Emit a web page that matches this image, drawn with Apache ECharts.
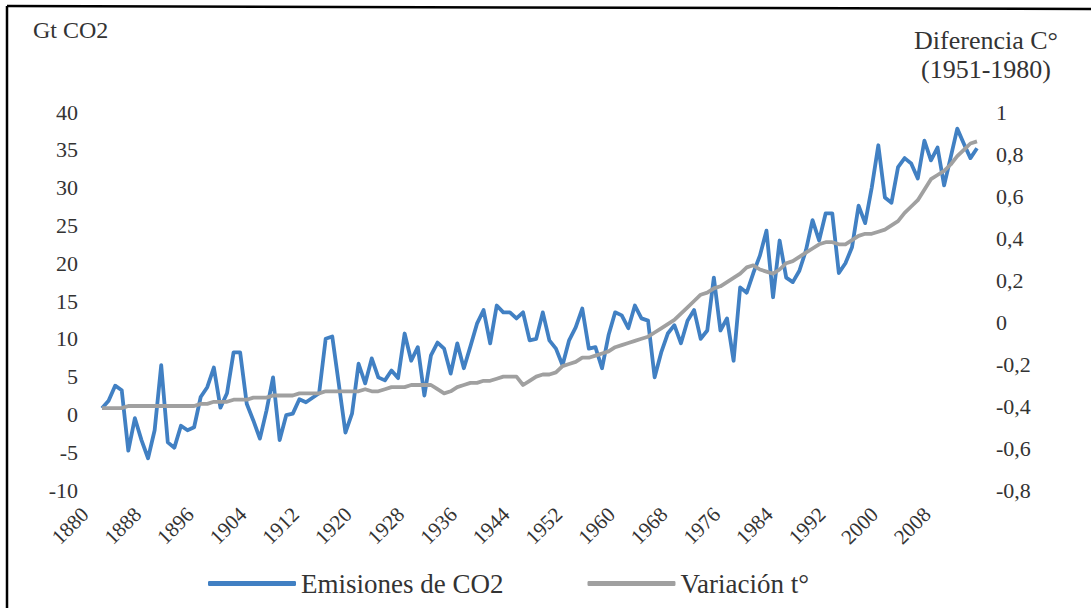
<!DOCTYPE html>
<html>
<head>
<meta charset="utf-8">
<script src="https://cdn.jsdelivr.net/npm/echarts@6/dist/echarts.min.js"></script>
<style>
html,body{margin:0;padding:0;background:#fff;}
#chart{width:1091px;height:608px;}
</style>
</head>
<body>
<div id="chart"></div>
<script>
// Years 1880–2013
const years = [];
for (let y = 1880; y <= 2013; y++) years.push(String(y));

// Emisiones de CO2 (Gt CO2)
const emisiones = [
  0.8, 1.8, 3.8, 3.2, -4.8, -0.5, -3.4, -5.8, -2.1, 6.5,
  -3.7, -4.4, -1.5, -2.1, -1.7, 2.3, 3.6, 6.2, 0.9, 2.8,
  8.2, 8.2, 1.4, -0.8, -3.2, 0.5, 4.9, -3.4, -0.1, 0.1,
  2.0, 1.6, 2.2, 2.8, 10.0, 10.3, 4.0, -2.4, 0.1, 6.7,
  4.1, 7.4, 4.9, 4.5, 5.8, 4.8, 10.7, 7.1, 8.9, 2.5,
  7.8, 9.5, 8.7, 5.4, 9.4, 6.1, 9.0, 12.0, 13.8, 9.4,
  14.4, 13.5, 13.5, 12.7, 13.5, 9.8, 10.0, 13.5, 9.8, 8.7,
  6.5, 9.8, 11.5, 14.0, 8.7, 8.9, 6.1, 10.5, 13.5, 13.1,
  11.4, 14.4, 12.7, 12.4, 4.9, 8.2, 10.7, 11.8, 9.4, 12.4,
  13.8, 10.0, 11.1, 18.1, 11.1, 12.7, 7.1, 16.8, 16.1, 18.7,
  21.0, 24.3, 15.5, 23.0, 18.1, 17.5, 19.0, 21.7, 25.7, 23.0,
  26.6, 26.6, 18.7, 20.0, 22.1, 27.6, 25.3, 30.0, 35.6, 28.7,
  28.0, 32.7, 33.9, 33.2, 31.2, 36.2, 33.6, 35.3, 30.3, 34.0,
  37.8, 35.8, 33.9, 35.2
];

// Variación t° (diferencia °C respecto a 1951-1980)
const variacion = [
  -0.41, -0.41, -0.41, -0.41, -0.40, -0.40, -0.40, -0.40, -0.40, -0.40,
  -0.40, -0.40, -0.40, -0.40, -0.40, -0.39, -0.39, -0.38, -0.38, -0.38,
  -0.37, -0.37, -0.37, -0.36, -0.36, -0.36, -0.35, -0.35, -0.35, -0.35,
  -0.34, -0.34, -0.34, -0.34, -0.33, -0.33, -0.33, -0.33, -0.33, -0.33,
  -0.32, -0.33, -0.33, -0.32, -0.31, -0.31, -0.31, -0.30, -0.30, -0.30,
  -0.30, -0.32, -0.34, -0.33, -0.31, -0.30, -0.29, -0.29, -0.28, -0.28,
  -0.27, -0.26, -0.26, -0.26, -0.30, -0.28, -0.26, -0.25, -0.25, -0.24,
  -0.21, -0.20, -0.19, -0.17, -0.17, -0.16, -0.15, -0.14, -0.12, -0.11,
  -0.10, -0.09, -0.08, -0.07, -0.05, -0.03, -0.01, 0.01, 0.04, 0.07,
  0.10, 0.13, 0.14, 0.16, 0.17, 0.19, 0.21, 0.23, 0.26, 0.27,
  0.25, 0.24, 0.23, 0.25, 0.28, 0.29, 0.31, 0.33, 0.35, 0.37,
  0.38, 0.38, 0.37, 0.37, 0.39, 0.41, 0.42, 0.42, 0.43, 0.44,
  0.46, 0.48, 0.52, 0.55, 0.58, 0.63, 0.68, 0.70, 0.72, 0.75,
  0.79, 0.82, 0.85, 0.86
];

const leftTitle = 'Gt CO2';
const rightTitle1 = 'Diferencia C°';
const rightTitle2 = '(1951-1980)';
const seriesNames = ['Emisiones de CO2', 'Variación t°'];

const FONT = '"Liberation Serif", "DejaVu Serif", serif';
const TXT = '#333333';

const chart = echarts.init(document.getElementById('chart'), null, {renderer: 'svg'});
chart.setOption({
  backgroundColor: '#ffffff',
  animation: false,
  grid: {left: 102, right: 114, top: 112, bottom: 118},
  legend: {
    left: 203, top: 565,
    itemWidth: 88, itemHeight: 5, itemGap: 84,
    icon: 'roundRect',
    textStyle: {fontFamily: FONT, fontSize: 27, color: TXT},
    data: seriesNames
  },
  graphic: [
    {type: 'line', shape: {x1: 7, y1: 6, x2: 1091, y2: 9}, style: {stroke: '#000', lineWidth: 2.5}},
    {type: 'line', shape: {x1: 7, y1: 6, x2: 7, y2: 608}, style: {stroke: '#000', lineWidth: 2.5}},
    {type: 'text', left: 33, top: 18, style: {text: leftTitle, fontFamily: FONT, fontSize: 24, fill: TXT}},
    {type: 'text', x: 986, y: 40, style: {text: rightTitle1, fontFamily: FONT, fontSize: 26, fill: TXT, textAlign: 'center', textVerticalAlign: 'middle'}},
    {type: 'text', x: 986, y: 69, style: {text: rightTitle2, fontFamily: FONT, fontSize: 26, fill: TXT, textAlign: 'center', textVerticalAlign: 'middle'}}
  ],
  xAxis: {
    type: 'category',
    data: years,
    boundaryGap: false,
    axisLine: {show: false},
    axisTick: {show: false},
    splitLine: {show: false},
    axisLabel: {
      interval: 7, rotate: 45, margin: 4, padding: [0, 24, 0, 0],
      fontFamily: FONT, fontSize: 21, color: TXT
    }
  },
  yAxis: [
    {
      type: 'value', min: -10, max: 40, interval: 5,
      axisLine: {show: false}, axisTick: {show: false}, splitLine: {show: false},
      axisLabel: {margin: 24, fontFamily: FONT, fontSize: 22, color: TXT}
    },
    {
      type: 'value', min: -0.8, max: 1, interval: 0.2,
      axisLine: {show: false}, axisTick: {show: false}, splitLine: {show: false},
      axisLabel: {
        margin: 19, fontFamily: FONT, fontSize: 22, color: TXT,
        formatter: v => String(Math.round(v * 10) / 10).replace('.', ',')
      }
    }
  ],
  series: [
    {
      name: seriesNames[0], type: 'line', data: emisiones, yAxisIndex: 0,
      showSymbol: false, symbol: 'none',
      lineStyle: {color: '#4180C3', width: 3.8, join: 'round'},
      itemStyle: {color: '#4180C3'}
    },
    {
      name: seriesNames[1], type: 'line', data: variacion, yAxisIndex: 1,
      showSymbol: false, symbol: 'none',
      lineStyle: {color: '#A0A0A0', width: 3.8, join: 'round'},
      itemStyle: {color: '#A0A0A0'}
    }
  ]
});
</script>
</body>
</html>
